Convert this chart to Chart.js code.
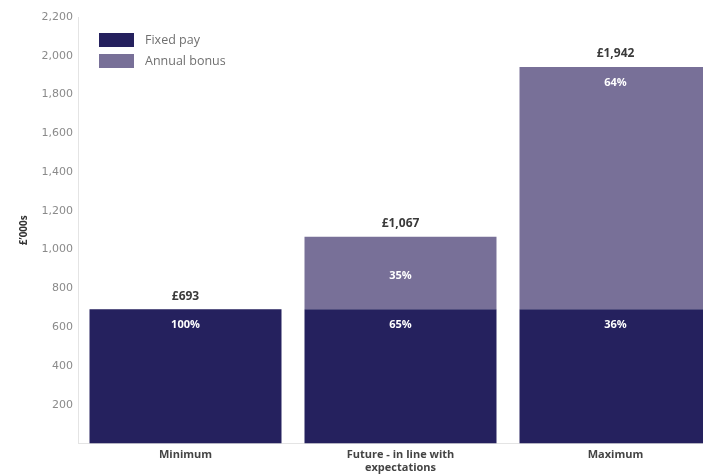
<!DOCTYPE html>
<html lang="en">
<head>
<meta charset="UTF-8">
<title>Remuneration scenarios</title>
<script src="https://cdn.jsdelivr.net/npm/chart.js@4"></script>
<style>
  html, body { margin: 0; padding: 0; background: #fff; overflow: hidden; }
  #wrap { width: 725px; height: 476px; }
</style>
</head>
<body>
<div id="wrap"><canvas id="chart" width="725" height="476"></canvas></div>
<script>
// values in £'000s
const categories = ['Minimum', ['Future - in line with', 'expectations'], 'Maximum'];
const fixedPay = [693, 693, 693];
const annualBonus = [0, 374, 1249];
const yTicks = [200, 400, 600, 800, 1000, 1200, 1400, 1600, 1800, 2000, 2200];

const NAVY = '#25215e';
const LILAC = '#787098';
const FONT = '"Open Sans", "DejaVu Sans", sans-serif';

const totals = fixedPay.map((v, i) => v + annualBonus[i]);

// legend drawn inside the plot, top left
const insideLegend = {
  id: 'insideLegend',
  afterDraw(chart) {
    const ctx = chart.ctx;
    const left = chart.chartArea.left + 21;
    ctx.save();
    ctx.font = '12.5px ' + FONT;
    ctx.textBaseline = 'middle';
    chart.data.datasets.forEach((ds, i) => {
      const y = 33 + i * 21;
      ctx.fillStyle = ds.backgroundColor;
      ctx.fillRect(left, y, 35, 14);
      ctx.fillStyle = '#707070';
      ctx.fillText(ds.label, left + 46, y + 7);
    });
    ctx.restore();
  }
};

// percentages inside segments and totals above each bar
const barLabels = {
  id: 'barLabels',
  afterDatasetsDraw(chart) {
    const ctx = chart.ctx;
    const yScale = chart.scales.y;
    ctx.save();
    ctx.textAlign = 'center';
    ctx.textBaseline = 'middle';
    chart.data.datasets.forEach((ds, di) => {
      const meta = chart.getDatasetMeta(di);
      meta.data.forEach((bar, i) => {
        const v = ds.data[i];
        if (!v) return;
        const pct = Math.round(v / totals[i] * 100) + '%';
        const h = bar.base - bar.y;
        const y = h > 100 ? bar.y + 16 : bar.y + h / 2 + 3;
        ctx.font = 'bold 11px ' + FONT;
        ctx.fillStyle = '#ffffff';
        ctx.fillText(pct, bar.x, y);
      });
    });
    const meta0 = chart.getDatasetMeta(0);
    totals.forEach((t, i) => {
      const x = meta0.data[i].x;
      const y = yScale.getPixelForValue(t) - 13;
      ctx.font = 'bold 12px ' + FONT;
      ctx.fillStyle = '#3a3a3a';
      ctx.fillText('£' + t.toLocaleString('en-GB'), x, y);
    });
    ctx.restore();
  }
};

new Chart(document.getElementById('chart'), {
  type: 'bar',
  data: {
    labels: categories,
    datasets: [
      { label: 'Fixed pay', data: fixedPay, backgroundColor: NAVY },
      { label: 'Annual bonus', data: annualBonus, backgroundColor: LILAC }
    ]
  },
  options: {
    responsive: false,
    animation: false,
    layout: { padding: { top: 17, right: 2, left: 0, bottom: 0 } },
    datasets: { bar: { barPercentage: 0.893, categoryPercentage: 1 } },
    plugins: {
      legend: { display: false },
      tooltip: { enabled: false }
    },
    scales: {
      x: {
        stacked: true,
        grid: { display: false, drawTicks: false },
        border: { color: '#e4e4e4' },
        ticks: {
          padding: 4,
          color: '#444',
          font: { family: FONT, size: 11, weight: 'bold', lineHeight: 1.25 }
        },
        afterFit(scale) { scale.height = 32.5; }
      },
      y: {
        stacked: true,
        min: 0,
        max: 2200,
        grid: { display: false, drawTicks: false },
        border: { color: '#e4e4e4' },
        afterBuildTicks(scale) {
          scale.ticks = [0].concat(yTicks).map(v => ({ value: v }));
        },
        ticks: {
          padding: 5,
          color: '#8a8a8a',
          font: { family: '"DejaVu Sans", sans-serif', size: 11 },
          callback: v => v === 0 ? '' : v.toLocaleString('en-GB')
        },
        title: {
          display: true,
          text: '£\u2019000s',
          color: '#333',
          padding: { top: 18, bottom: 0 },
          font: { family: FONT, size: 10, weight: 'bold' }
        },
        afterFit(scale) { scale.width = 78; }
      }
    }
  },
  plugins: [insideLegend, barLabels]
});
</script>
</body>
</html>
